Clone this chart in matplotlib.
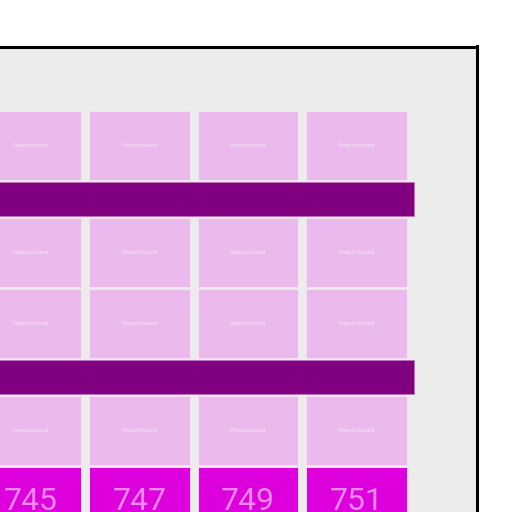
import matplotlib.pyplot as plt
from matplotlib.patches import Rectangle

# seat map data (rows top to bottom, columns left to right)
row_kinds = ["prepurchased", "aisle", "prepurchased", "prepurchased", "aisle", "prepurchased", "open"]
seat_numbers = [745, 747, 749, 751]
status_label = "Prepurchased"

row_height = {"prepurchased": 1.0, "open": 1.0, "aisle": 0.5}
seat_color = {"prepurchased": "#ecb9ec", "open": "#dd00dd"}
aisle_color = "#800080"

fig = plt.figure(figsize=(5.12, 5.12), dpi=100)
# axes spans past the left and bottom edges: only a corner of the room is shown
ax = fig.add_axes([-77.5 / 512, 1 - 573 / 512, (477 + 77.5) / 512, (573 - 46.5) / 512])
ax.set_facecolor("#ececec")
ax.set_xlim(-0.5, 4.61)
ax.set_ylim(6.5, -0.888)
ax.set_xticks([])
ax.set_yticks([])
for s in ax.spines.values():
    s.set_color("black")
    s.set_linewidth(2.2)

ncols = len(seat_numbers)
pad_x = 0.037
pad_y = 0.012
top = 0.0
for kind in row_kinds:
    h = row_height[kind]
    if kind == "aisle":
        ax.add_patch(Rectangle((-0.03, top + pad_y), ncols + 0.06, h - 2 * pad_y,
                               facecolor=aisle_color, edgecolor="#c070c0", linewidth=0.6))
    else:
        for i in range(ncols):
            ax.add_patch(Rectangle((i + pad_x, top + pad_y), 1 - 2 * pad_x, h - 2 * pad_y,
                                   facecolor=seat_color[kind], edgecolor="#f4e2f4", linewidth=0.7))
            if kind == "open":
                ax.text(i + 0.5, top + h / 2, str(seat_numbers[i]), ha="center", va="center",
                        fontsize=23, color="#ee88ee", family="Roboto")
            else:
                ax.text(i + 0.5, top + h / 2, status_label, ha="center", va="center",
                        fontsize=4.2, color="#f6e2f6", family="Roboto")
    top += h

fig.savefig("out.png", dpi=100)
